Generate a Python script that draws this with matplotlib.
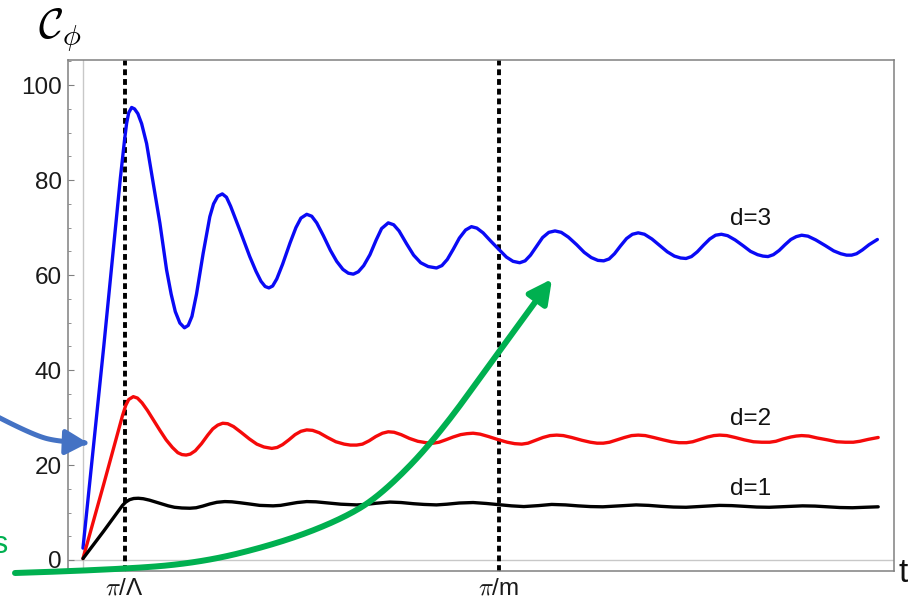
import numpy as np
import matplotlib
matplotlib.use("Agg")
import matplotlib.pyplot as plt
from matplotlib.patches import FancyArrowPatch, ArrowStyle
from matplotlib.path import Path
from matplotlib.transforms import Affine2D
from matplotlib.ticker import MultipleLocator

plt.rcParams["font.family"] = ["Liberation Sans", "DejaVu Sans"]
plt.rcParams["mathtext.fontset"] = "cm"

# ---- time axis markers (t in units of pi/Lambda) ----
PI_OVER_LAMBDA = 1.0
PI_OVER_M = 10.0
x_ticks = [PI_OVER_LAMBDA, PI_OVER_M]
x_tick_labels = [r"$\pi$/Λ", r"$\pi$/m"]
y_ticks = [0, 20, 40, 60, 80, 100]

# ---- d = 3 ----
t_d3 = [0, 0.5, 0.9, 1.0, 1.05, 1.10, 1.17, 1.24, 1.32, 1.41, 1.53, 1.69, 1.85,
        2.01, 2.12, 2.22, 2.33, 2.44, 2.53, 2.62, 2.73, 2.89, 3.05, 3.14, 3.24,
        3.35, 3.45, 3.55, 3.77, 4.01, 4.16, 4.28, 4.38, 4.47, 4.56, 4.66, 4.80,
        4.98, 5.12, 5.24, 5.38, 5.50, 5.62, 5.78, 5.95, 6.10, 6.25, 6.38, 6.50,
        6.62, 6.75, 6.90, 7.05, 7.18, 7.34, 7.47, 7.60, 7.78, 7.95, 8.12, 8.30,
        8.50, 8.63, 8.76, 8.90, 9.05, 9.20, 9.34, 9.47, 9.62, 9.80, 10.00, 10.18,
        10.34, 10.50, 10.63, 10.76, 10.91, 11.05, 11.20, 11.35, 11.50, 11.67,
        11.87, 12.05, 12.22, 12.38, 12.52, 12.65, 12.78, 12.92, 13.07, 13.21,
        13.35, 13.50, 13.68, 13.87, 14.05, 14.22, 14.37, 14.50, 14.63, 14.77,
        14.92, 15.07, 15.21, 15.35, 15.50, 15.68, 15.87, 16.05, 16.22, 16.35,
        16.47, 16.60, 16.74, 16.88, 17.02, 17.15, 17.28, 17.43, 17.62, 17.85,
        18.05, 18.22, 18.36, 18.48, 18.60, 18.74, 18.90, 19.10]
c_d3 = [2.5, 45.0, 80.5, 88.5, 92.0, 94.2, 95.3, 95.0, 94.0, 91.9, 87.7, 79.3, 70.9,
        61.1, 56.0, 52.3, 49.9, 48.9, 49.4, 51.3, 56.0, 64.6, 72.3, 75.0, 76.6,
        77.1, 76.4, 74.5, 69.5, 63.9, 60.8, 58.7, 57.6, 57.3, 57.7, 59.2, 62.3,
        66.8, 70.0, 72.0, 72.8, 72.4, 71.0, 68.3, 65.2, 62.9, 61.2, 60.4, 60.2,
        60.7, 62.0, 64.3, 67.4, 69.8, 71.0, 70.6, 69.3, 66.6, 64.2, 62.6, 61.8,
        61.5, 62.0, 63.3, 65.4, 67.8, 69.5, 70.2, 69.9, 68.9, 67.2, 65.4, 63.8,
        62.9, 62.6, 63.0, 64.2, 66.1, 67.9, 69.0, 69.3, 69.0, 68.0,
        66.4, 64.8, 63.7, 63.1, 63.0, 63.4, 64.5, 66.1, 67.7, 68.6,
        68.9, 68.6, 67.6, 66.2, 64.9, 64.0, 63.6, 63.5, 63.9, 64.9,
        66.3, 67.6, 68.4, 68.6, 68.3, 67.4, 66.2, 65.0, 64.3, 64.0,
        63.9, 64.3, 65.2, 66.4, 67.5, 68.1, 68.4, 68.2, 67.4, 66.2,
        65.1, 64.5, 64.2, 64.2, 64.5, 65.3, 66.4, 67.5]

# ---- d = 2 ----
t_d2 = [0, 0.5, 0.95, 1.03, 1.10, 1.21, 1.31, 1.42, 1.55, 1.70, 1.85, 2.00, 2.15,
        2.28, 2.38, 2.48, 2.58, 2.70, 2.85, 3.00, 3.12, 3.24, 3.36, 3.48, 3.62,
        3.80, 4.00, 4.18, 4.35, 4.54, 4.67, 4.80, 4.95, 5.10, 5.24, 5.38, 5.52,
        5.68, 5.88, 6.08, 6.28, 6.43, 6.58, 6.72, 6.88, 7.04, 7.20, 7.34, 7.48,
        7.65, 7.85, 8.05, 8.25, 8.42, 8.56, 8.72, 8.90, 9.08, 9.23, 9.38, 9.55,
        9.75, 10.00, 10.20, 10.38, 10.55, 10.70, 10.88, 11.06, 11.23, 11.39,
        11.55, 11.75, 12.00, 12.20, 12.36, 12.51, 12.66, 12.84, 13.02, 13.19,
        13.35, 13.52, 13.72, 13.95, 14.15, 14.33, 14.51, 14.66, 14.84, 15.02,
        15.17, 15.31, 15.48, 15.68, 15.90, 16.12, 16.32, 16.51, 16.66, 16.84,
        17.02, 17.15, 17.28, 17.45, 17.65, 17.90, 18.12, 18.33, 18.52, 18.68,
        18.88, 19.12]
c_d2 = [0.3, 16.0, 30.4, 32.6, 33.8, 34.4, 34.1, 33.1, 31.5, 29.4, 27.3, 25.3, 23.7,
        22.6, 22.2, 22.1, 22.3, 23.0, 24.5, 26.3, 27.6, 28.4, 28.8, 28.7, 28.1,
        26.9, 25.5, 24.4, 23.8, 23.5, 23.7, 24.3, 25.3, 26.4, 27.1, 27.4, 27.3,
        26.8, 25.8, 24.9, 24.4, 24.2, 24.2, 24.4, 25.1, 26.0, 26.7, 27.0, 26.9,
        26.4, 25.6, 25.0, 24.7, 24.6, 24.8, 25.3, 25.9, 26.4, 26.6, 26.7, 26.5,
        26.0, 25.3, 24.8, 24.5, 24.4, 24.6, 25.2, 25.8, 26.2, 26.3,
        26.2, 25.8, 25.2, 24.8, 24.6, 24.6, 24.8, 25.3, 25.8, 26.2,
        26.3, 26.2, 25.8, 25.3, 24.9, 24.7, 24.7, 24.9, 25.4, 25.9,
        26.2, 26.3, 26.2, 25.8, 25.3, 24.9, 24.8, 24.8, 25.0, 25.5,
        25.9, 26.1, 26.2, 26.1, 25.7, 25.3, 24.9, 24.8, 24.8, 25.0,
        25.4, 25.8]

# ---- d = 1 ----
t_d1 = [0, 0.5, 0.95, 1.03, 1.12, 1.22, 1.33, 1.45, 1.60, 1.75, 1.90, 2.05, 2.20,
        2.38, 2.57, 2.72, 2.88, 3.05, 3.22, 3.41, 3.58, 3.78, 4.00, 4.25, 4.57,
        4.75, 4.95, 5.15, 5.38, 5.60, 5.90, 6.20, 6.58, 6.80, 7.05, 7.38, 7.65,
        7.95, 8.20, 8.50, 8.75, 9.05, 9.38, 9.70, 10.00, 10.30, 10.60, 10.95,
        11.27, 11.60, 11.90, 12.20, 12.50, 12.90, 13.30, 13.60, 13.90, 14.20,
        14.50, 14.90, 15.30, 15.60, 15.90, 16.20, 16.50, 16.90, 17.30, 17.60,
        17.90, 18.20, 18.50, 18.80, 19.12]
c_d1 = [0.3, 6.1, 11.5, 12.2, 12.7, 12.95, 13.0, 12.9, 12.6, 12.2, 11.8, 11.4, 11.1,
        10.95, 10.9, 11.0, 11.35, 11.8, 12.15, 12.3, 12.25, 12.05, 11.8, 11.5, 11.4,
        11.5, 11.8, 12.1, 12.3, 12.25, 12.0, 11.75, 11.6, 11.7, 11.95, 12.2, 12.1,
        11.85, 11.7, 11.6, 11.75, 12.0, 12.1, 11.9, 11.65, 11.4, 11.25, 11.45,
        11.7, 11.6, 11.4, 11.25, 11.2, 11.4, 11.6, 11.5, 11.3, 11.15,
        11.1, 11.3, 11.5, 11.45, 11.3, 11.15, 11.1, 11.25, 11.4, 11.35,
        11.2, 11.05, 11.0, 11.1, 11.2]

series = [
    (t_d3, c_d3, "#0a0af5", "d=3", 71.9),
    (t_d2, c_d2, "#f50a0a", "d=2", 29.6),
    (t_d1, c_d1, "#000000", "d=1", 15.0),
]
label_t = 16.06

W, H = 909, 602
fig = plt.figure(figsize=(W / 100, H / 100), dpi=100)
ax = fig.add_axes([68 / W, 1 - 571 / H, (894 - 68) / W, (571 - 60) / H])
ax.set_xlim(-0.36, 19.5)
ax.set_ylim(-2.32, 105.3)

frame_col = "#808080"
for sp in ax.spines.values():
    sp.set_color(frame_col)
    sp.set_linewidth(1.1)

# light reference axes through the origin
ax.axhline(0, color="#c8c8c8", lw=1.0, zorder=1)
ax.axvline(0, color="#c8c8c8", lw=1.0, zorder=1)

# dashed markers at pi/Lambda and pi/m
for xv in x_ticks:
    ax.axvline(xv, color="black", lw=2.8, linestyle=(0, (1.5, 1.0)), zorder=2)

for t, c, col, lab, ly in series:
    ax.plot(t, c, color=col, lw=2.4, solid_joinstyle="round",
            solid_capstyle="round", zorder=3)
    ax.text(label_t, ly, lab, ha="center", va="center", fontsize=17.5,
            color="#111111")

ax.set_yticks(y_ticks)
ax.yaxis.set_minor_locator(MultipleLocator(5))
ax.set_xticks(x_ticks)
ax.set_xticklabels(x_tick_labels)
ax.tick_params(axis="y", which="both", direction="in", left=True, right=False,
               colors=frame_col, labelcolor="#1a1a1a", labelsize=17.5, pad=4.5)
ax.tick_params(axis="y", which="major", length=4)
ax.tick_params(axis="y", which="minor", length=2.4)
ax.tick_params(axis="x", which="both", direction="in", bottom=True, top=False,
               length=3, colors=frame_col, labelcolor="#1a1a1a",
               labelsize=17.5, pad=5)

# pixel-space transform for annotations
px = Affine2D().scale(1, -1).translate(0, H)

fig.text(60, 30, r"$\mathcal{C}_{\phi}$", transform=px, fontsize=31,
         ha="center", va="center", color="black")
fig.text(903, 574, "t", transform=px, fontsize=24, ha="center", va="center",
         color="#111111")
fig.text(0, 545, "s", transform=px, fontsize=22, ha="center", va="center",
         color="#00b050")


def smooth_polyline(pts, n=20):
    pts = np.asarray(pts, float)
    out = [pts[0]]
    start = pts[0]
    for i in range(1, len(pts) - 1):
        ctrl = pts[i]
        end = (pts[i] + pts[i + 1]) / 2 if i < len(pts) - 2 else pts[i + 1]
        s = np.linspace(0, 1, n)[1:, None]
        seg = (1 - s) ** 2 * start + 2 * (1 - s) * s * ctrl + s ** 2 * end
        out.extend(seg)
        start = end
    return np.array(out)


green_pts = [(15, 573), (110, 570), (200, 563), (280, 543), (340, 520),
             (380, 496), (435, 440), (498, 353), (552, 279)]
gp = smooth_polyline(green_pts)
green = FancyArrowPatch(path=Path(gp), transform=px,
                        arrowstyle=ArrowStyle("-|>", head_length=0.7, head_width=0.36),
                        mutation_scale=20, lw=4.3, color="#00b050",
                        capstyle="round", joinstyle="round", zorder=10)
green.set_clip_on(False)
fig.add_artist(green)

blue_pts = [(-2, 417), (33, 435), (60, 442), (88, 443)]
bp = smooth_polyline(blue_pts)
blue = FancyArrowPatch(path=Path(bp), transform=px,
                       arrowstyle=ArrowStyle("-|>", head_length=0.75, head_width=0.42),
                       mutation_scale=18, lw=3.6, color="#4472c4",
                       joinstyle="round", zorder=10)
blue.set_clip_on(False)
fig.add_artist(blue)

fig.savefig("out.png", dpi=100, facecolor="white")
